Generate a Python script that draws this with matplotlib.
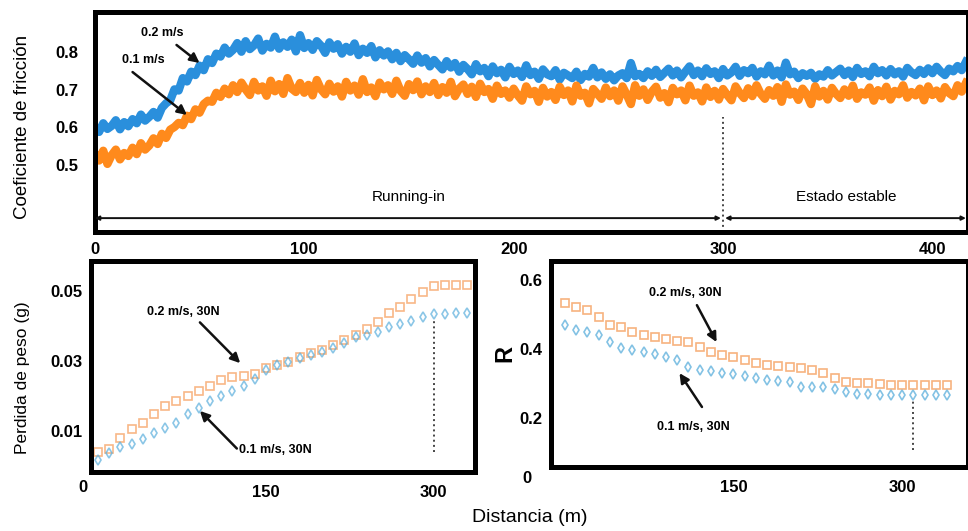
import numpy as np
import matplotlib

matplotlib.use("Agg")
import matplotlib.pyplot as plt

plt.rcParams["font.family"] = ["Liberation Sans", "DejaVu Sans"]

# --- top panel: friction coefficient vs distance (one sample every 2 m) ---
dist_top = np.arange(0, 417, 2)
cof_02 = [
    0.602, 0.588, 0.611, 0.596, 0.604, 0.619, 0.595, 0.614, 0.603, 0.622,
    0.611, 0.634, 0.618, 0.628, 0.641, 0.626, 0.652, 0.664, 0.672, 0.701,
    0.698, 0.731, 0.722, 0.748, 0.739, 0.764, 0.752, 0.781, 0.771, 0.796,
    0.788, 0.812, 0.796, 0.806, 0.824, 0.801, 0.829, 0.808, 0.818, 0.836,
    0.804, 0.822, 0.812, 0.841, 0.809, 0.826, 0.814, 0.833, 0.802, 0.845,
    0.811, 0.824, 0.806, 0.829, 0.817, 0.798, 0.826, 0.809, 0.821, 0.796,
    0.814, 0.801, 0.823, 0.792, 0.809, 0.798, 0.816, 0.786, 0.805, 0.791,
    0.802, 0.781, 0.798, 0.776, 0.792, 0.781, 0.769, 0.791, 0.772, 0.784,
    0.762, 0.779, 0.766, 0.754, 0.776, 0.759, 0.771, 0.748, 0.766, 0.755,
    0.741, 0.768, 0.749, 0.758, 0.736, 0.762, 0.744, 0.753, 0.733, 0.761,
    0.742, 0.751, 0.734, 0.765, 0.739, 0.748, 0.729, 0.754, 0.741, 0.736,
    0.752, 0.727, 0.745, 0.738, 0.731, 0.748, 0.726, 0.742, 0.735, 0.758,
    0.733, 0.746, 0.729, 0.741, 0.725, 0.738, 0.744, 0.731, 0.771, 0.736,
    0.742, 0.731, 0.749, 0.737, 0.753, 0.734, 0.745, 0.756, 0.738, 0.751,
    0.733, 0.748, 0.762, 0.739, 0.751, 0.736, 0.757, 0.742, 0.749, 0.731,
    0.755, 0.738, 0.746, 0.761, 0.737, 0.752, 0.744, 0.758, 0.735, 0.749,
    0.741, 0.764, 0.738, 0.751, 0.733, 0.772, 0.741, 0.748, 0.731, 0.744,
    0.737, 0.745, 0.729, 0.741, 0.735, 0.752, 0.738, 0.747, 0.756, 0.739,
    0.751, 0.734, 0.758, 0.742, 0.749, 0.736, 0.761, 0.744, 0.752, 0.738,
    0.755, 0.741, 0.749, 0.735, 0.758, 0.746, 0.739, 0.753, 0.742, 0.757,
    0.744, 0.761, 0.748, 0.739, 0.756, 0.749, 0.763, 0.752, 0.774,
]
cof_01 = [
    0.531, 0.512, 0.538, 0.503, 0.526, 0.541, 0.515, 0.532, 0.524, 0.546,
    0.529, 0.558, 0.541, 0.552, 0.571, 0.556, 0.583, 0.572, 0.594, 0.601,
    0.612, 0.606, 0.631, 0.622, 0.648, 0.639, 0.662, 0.671, 0.668, 0.692,
    0.681, 0.703, 0.688, 0.712, 0.694, 0.719, 0.701, 0.686, 0.721, 0.698,
    0.709, 0.684, 0.724, 0.696, 0.715, 0.689, 0.731, 0.703, 0.694, 0.718,
    0.692, 0.713, 0.685, 0.726, 0.701, 0.688, 0.716, 0.695, 0.709, 0.682,
    0.721, 0.698, 0.711, 0.687, 0.728, 0.694, 0.706, 0.683, 0.719, 0.701,
    0.712, 0.689, 0.724, 0.697, 0.684, 0.715, 0.699, 0.722, 0.688, 0.709,
    0.694, 0.718, 0.686, 0.707, 0.692, 0.721, 0.683, 0.703, 0.714, 0.689,
    0.708, 0.681, 0.716, 0.694, 0.702, 0.676, 0.711, 0.689, 0.698, 0.679,
    0.703, 0.685, 0.671, 0.709, 0.688, 0.697, 0.668, 0.705, 0.682, 0.694,
    0.673, 0.708, 0.686, 0.698, 0.669, 0.711, 0.684, 0.692, 0.664, 0.702,
    0.689, 0.676, 0.706, 0.683, 0.698, 0.671, 0.709, 0.687, 0.662, 0.712,
    0.684, 0.701, 0.673, 0.695, 0.708, 0.679, 0.691, 0.667, 0.705, 0.688,
    0.698, 0.672, 0.711, 0.684, 0.693, 0.669, 0.706, 0.681, 0.697, 0.674,
    0.702, 0.686, 0.672, 0.709, 0.691, 0.678, 0.704, 0.683, 0.712, 0.689,
    0.676, 0.699, 0.684, 0.707, 0.668, 0.714, 0.687, 0.695, 0.673, 0.703,
    0.688, 0.662, 0.709, 0.682, 0.697, 0.674, 0.705, 0.689, 0.678, 0.701,
    0.684, 0.711, 0.676, 0.693, 0.687, 0.706, 0.671, 0.699, 0.683, 0.708,
    0.674, 0.697, 0.688, 0.712, 0.679, 0.694, 0.685, 0.703, 0.672, 0.709,
    0.686, 0.698, 0.677, 0.707, 0.691, 0.683, 0.712, 0.695, 0.718,
]

# --- bottom left: weight loss ---
dist_wl = np.arange(0, 331, 10)
wl_02 = [
    0.0042, 0.0051, 0.0080, 0.0106, 0.0123, 0.0149, 0.0172, 0.0187, 0.0201, 0.0216,
    0.0230, 0.0245, 0.0254, 0.0257, 0.0264, 0.0280, 0.0288, 0.0297, 0.0312, 0.0322,
    0.0332, 0.0346, 0.0360, 0.0375, 0.0390, 0.0412, 0.0438, 0.0453, 0.0477, 0.0497,
    0.0514, 0.0516, 0.0515, 0.0516,
]
wl_01 = [
    0.0019, 0.0037, 0.0056, 0.0065, 0.0077, 0.0094, 0.0109, 0.0123, 0.0149, 0.0167,
    0.0187, 0.0201, 0.0216, 0.0230, 0.0250, 0.0274, 0.0288, 0.0297, 0.0309, 0.0317,
    0.0326, 0.0337, 0.0352, 0.0367, 0.0375, 0.0384, 0.0396, 0.0404, 0.0413, 0.0424,
    0.0433, 0.0433, 0.0436, 0.0438,
]

# --- bottom right: R ---
dist_r = np.arange(0, 341, 10)
r_02 = [
    0.532, 0.521, 0.513, 0.494, 0.470, 0.463, 0.450, 0.441, 0.434, 0.428,
    0.424, 0.421, 0.407, 0.392, 0.383, 0.378, 0.368, 0.360, 0.354, 0.351,
    0.349, 0.344, 0.339, 0.330, 0.315, 0.305, 0.300, 0.300, 0.298, 0.296,
    0.296, 0.296, 0.296, 0.296, 0.296,
]
r_01 = [
    0.470, 0.455, 0.450, 0.441, 0.421, 0.402, 0.397, 0.392, 0.386, 0.378,
    0.368, 0.347, 0.339, 0.337, 0.331, 0.328, 0.322, 0.315, 0.310, 0.308,
    0.305, 0.291, 0.291, 0.290, 0.283, 0.276, 0.270, 0.270, 0.267, 0.267,
    0.266, 0.266, 0.266, 0.266, 0.266,
]

BLUE = "#2a8fdc"
ORANGE = "#ff8a1c"
SPINE_W = 3.6


def frame(ax):
    for sp in ax.spines.values():
        sp.set_linewidth(SPINE_W)
        sp.set_color("black")
    ax.tick_params(length=0)
    for lab in ax.get_xticklabels() + ax.get_yticklabels():
        lab.set_fontweight("bold")


def arrow(ax, tail, head):
    ax.annotate("", xy=head, xytext=tail,
                arrowprops=dict(arrowstyle="-|>", color="#111111", lw=1.8,
                                mutation_scale=14, shrinkA=0, shrinkB=0))


fig = plt.figure(figsize=(9.68, 5.31), dpi=100)

# top panel
ax = fig.add_axes([0.098, 0.563, 0.902, 0.414])
ax.plot(dist_top, cof_02, color=BLUE, lw=6.0)
ax.plot(dist_top, cof_01, color=ORANGE, lw=6.0)
ax.set_xlim(0, 417)
ax.set_ylim(0.322, 0.906)
ax.set_xticks([0, 100, 200, 300, 400])
ax.set_yticks([0.5, 0.6, 0.7, 0.8])
ax.tick_params(axis="x", labelsize=12, pad=7)
ax.tick_params(axis="y", labelsize=12, pad=12)
frame(ax)
ax.plot([300, 300], [0.322, 0.627], color="#444444", ls=":", lw=1.4)
ax.annotate("", xy=(0, 0.359), xytext=(299, 0.359),
            arrowprops=dict(arrowstyle="<|-|>", color="#111111", lw=1.4,
                            mutation_scale=6, shrinkA=0, shrinkB=0))
ax.annotate("", xy=(301, 0.359), xytext=(416, 0.359),
            arrowprops=dict(arrowstyle="<|-|>", color="#111111", lw=1.4,
                            mutation_scale=6, shrinkA=0, shrinkB=0))
ax.text(150, 0.415, "Running-in", ha="center", va="center", fontsize=11)
ax.text(359, 0.415, "Estado estable", ha="center", va="center", fontsize=11)
ax.text(32, 0.852, "0.2 m/s", ha="center", va="center", fontsize=9, fontweight="bold")
arrow(ax, (39, 0.819), (50, 0.771))
ax.text(23, 0.779, "0.1 m/s", ha="center", va="center", fontsize=9, fontweight="bold")
arrow(ax, (18, 0.747), (44, 0.633))

# bottom left panel
ax = fig.add_axes([0.094, 0.111, 0.397, 0.397])
ax.plot(dist_wl, wl_02, ls="none", marker="s", ms=5.5, mfc="none",
        mec="#f59a55", mew=1.2, alpha=0.7)
ax.plot(dist_wl, wl_01, ls="none", marker="d", ms=5.5, mfc="none",
        mec="#5aaedc", mew=1.2, alpha=0.7)
ax.set_xlim(-6.3, 337)
ax.set_ylim(-0.0016, 0.0584)
ax.set_xticks([150, 300])
ax.set_yticks([0.01, 0.03, 0.05])
ax.set_yticklabels(["0.01", "0.03", "0.05"])
ax.tick_params(axis="x", labelsize=12, pad=9)
ax.tick_params(axis="y", labelsize=12, pad=6)
frame(ax)
ax.text(-13.4, -0.04, "0", transform=ax.get_xaxis_transform(), ha="center",
        va="top", fontsize=12, fontweight="bold")
ax.plot([300, 300], [0.004, 0.0413], color="#444444", ls=":", lw=1.4)
ax.text(76, 0.0439, "0.2 m/s, 30N", ha="center", va="center", fontsize=9, fontweight="bold")
arrow(ax, (91, 0.041), (127, 0.0294))
ax.text(126, 0.0048, "0.1 m/s, 30N", ha="left", va="center", fontsize=9, fontweight="bold")
arrow(ax, (124, 0.0051), (91, 0.0158))

# bottom right panel
ax = fig.add_axes([0.569, 0.1205, 0.431, 0.388])
ax.plot(dist_r, r_02, ls="none", marker="s", ms=5.5, mfc="none",
        mec="#f59a55", mew=1.2, alpha=0.75)
ax.plot(dist_r, r_01, ls="none", marker="d", ms=5.5, mfc="none",
        mec="#5aaedc", mew=1.2, alpha=0.75)
ax.set_xlim(-12.5, 358.7)
ax.set_ylim(0.058, 0.655)
ax.set_xticks([150, 300])
ax.set_yticks([0.2, 0.4, 0.6])
ax.tick_params(axis="x", labelsize=12, pad=9)
ax.tick_params(axis="y", labelsize=12, pad=6)
frame(ax)
ax.text(-34, -0.02, "0", transform=ax.get_xaxis_transform(), ha="center",
        va="top", fontsize=12, fontweight="bold")
ax.plot([310, 310], [0.107, 0.252], color="#444444", ls=":", lw=1.4)
ax.text(107, 0.562, "0.2 m/s, 30N", ha="center", va="center", fontsize=9, fontweight="bold")
arrow(ax, (117.5, 0.527), (135, 0.420))
ax.text(114, 0.174, "0.1 m/s, 30N", ha="center", va="center", fontsize=9, fontweight="bold")
arrow(ax, (122, 0.232), (102, 0.330))

# axis titles
fig.text(23 / 968, 1 - 127 / 531, "Coeficiente de fricción", rotation=90,
         ha="center", va="center", fontsize=13.5)
fig.text(23 / 968, 1 - 378 / 531, "Perdida de peso (g)", rotation=90,
         ha="center", va="center", fontsize=12.5)
fig.text(505 / 968, 1 - 353 / 531, "R", rotation=90, ha="center", va="center",
         fontsize=17, fontweight="bold")
fig.text(530 / 968, 1 - 517 / 531, "Distancia (m)", ha="center", va="center",
         fontsize=14)

fig.savefig("out.png", dpi=100)
